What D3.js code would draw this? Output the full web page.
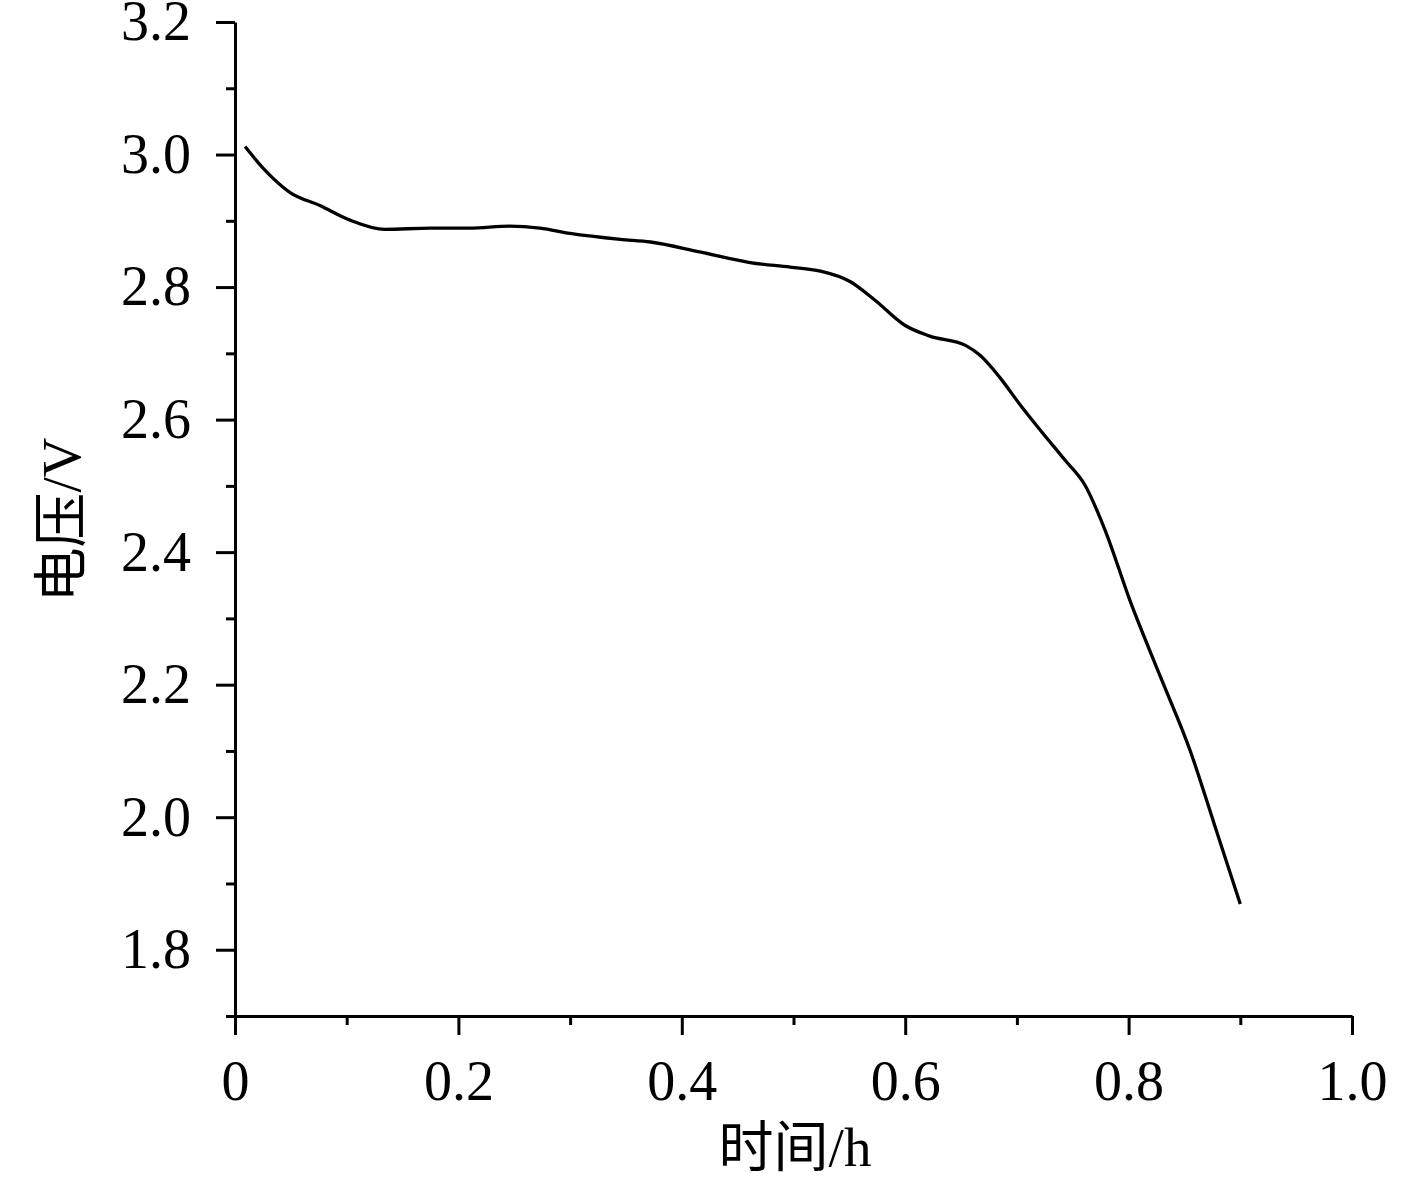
<!DOCTYPE html>
<html><head><meta charset="utf-8">
<script src="https://cdn.jsdelivr.net/npm/d3@7"></script>
<style>
body{margin:0;background:#fff;}
svg text{font-family:"Liberation Serif","Times New Roman","Noto Sans CJK SC",serif;fill:#000;}
</style></head>
<body><svg id="c" width="1417" height="1180"></svg>
<script>
const timeH = [0.009,0.027,0.049,0.076,0.103,0.134,0.175,0.210,0.246,0.273,0.300,0.345,0.372,0.416,0.461,0.497,0.524,0.551,0.573,0.600,0.622,0.654,0.667,0.685,0.703,0.721,0.743,0.761,0.779,0.801,0.828,0.855,0.877,0.900];
const voltage = [3.012,2.976,2.943,2.923,2.901,2.887,2.889,2.889,2.892,2.889,2.881,2.872,2.868,2.853,2.837,2.830,2.824,2.808,2.780,2.742,2.726,2.712,2.697,2.663,2.622,2.584,2.539,2.501,2.433,2.328,2.214,2.101,1.988,1.869];
const xMajor = [0,0.2,0.4,0.6,0.8,1.0];
const xMinor = [0.1,0.3,0.5,0.7,0.9];
const xTickLabels = ["0","0.2","0.4","0.6","0.8","1.0"];
const yMajor = [1.8,2.0,2.2,2.4,2.6,2.8,3.0,3.2];
const yMinor = [1.7,1.9,2.1,2.3,2.5,2.7,2.9,3.1];
const yTickLabels = ["1.8","2.0","2.2","2.4","2.6","2.8","3.0","3.2"];
const xTitle = "时间/h";
const yTitle = "电压/V";

const svg = d3.select("#c");
const x = d3.scaleLinear().domain([0,1.0]).range([235,1352]);
const y = d3.scaleLinear().domain([1.7,3.2]).range([1016,22]);
const fs = 56;

// x axis
const gx = svg.append("g").attr("transform","translate(0,1016)");
gx.call(d3.axisBottom(x).tickValues(xMajor).tickSize(19).tickSizeOuter(0).tickPadding(25)
  .tickFormat((d,i)=>xTickLabels[i]));
gx.append("g").call(d3.axisBottom(x).tickValues(xMinor).tickSize(9).tickFormat(""))
  .select(".domain").remove();
// y axis
const gy = svg.append("g").attr("transform","translate(235,0)");
gy.call(d3.axisLeft(y).tickValues(yMajor).tickSize(19).tickSizeOuter(0).tickPadding(25)
  .tickFormat((d,i)=>yTickLabels[i]));
gy.append("g").call(d3.axisLeft(y).tickValues(yMinor).tickSize(9).tickFormat(""))
  .select(".domain").remove();

svg.selectAll(".domain, .tick line").attr("stroke","#000").attr("stroke-width",3);
svg.selectAll(".tick text").attr("font-size",fs).attr("font-family",'"Liberation Serif",serif');

// line
const data = timeH.map((t,i)=>[t,voltage[i]]);
svg.append("path").datum(data)
  .attr("fill","none").attr("stroke","#000").attr("stroke-width",3.3)
  .attr("d",d3.line().x(d=>x(d[0])).y(d=>y(d[1])).curve(d3.curveMonotoneX));

// titles
svg.append("text").attr("x",795).attr("y",1166).attr("text-anchor","middle")
  .attr("font-size",55).text(xTitle);
svg.append("text").attr("transform","translate(80,520) rotate(-90)").attr("text-anchor","middle")
  .attr("font-size",55).text(yTitle);
</script></body></html>
